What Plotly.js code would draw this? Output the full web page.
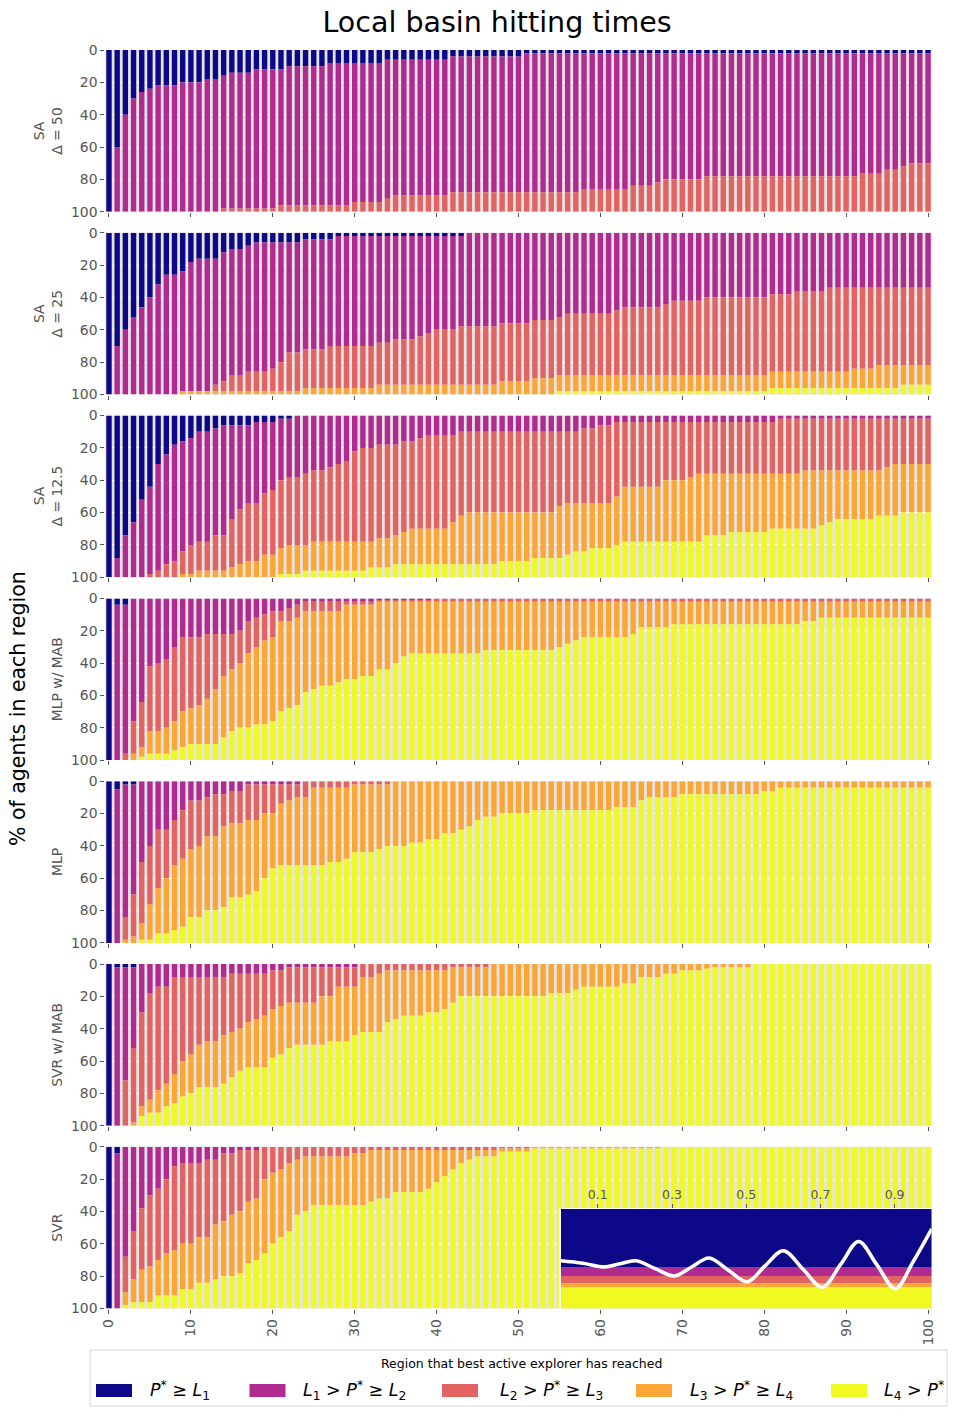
<!DOCTYPE html>
<html><head><meta charset="utf-8">
<script src="https://cdn.plot.ly/plotly-3.0.1.min.js"></script>
<style>body{margin:0;background:#fff}#chart{width:957px;height:1417px}</style>
</head><body><div id="chart"></div>
<script>
// ---------- categories / ticks ----------
const steps = [0,1,2,3,4,5,6,7,8,9,10,11,12,13,14,15,16,17,18,19,20,21,22,23,24,25,26,27,28,29,30,31,32,33,34,35,36,37,38,39,40,41,42,43,44,45,46,47,48,49,50,51,52,53,54,55,56,57,58,59,60,61,62,63,64,65,66,67,68,69,70,71,72,73,74,75,76,77,78,79,80,81,82,83,84,85,86,87,88,89,90,91,92,93,94,95,96,97,98,99,100];
const xTickVals = [0,10,20,30,40,50,60,70,80,90,100];
const yTickVals = [0,20,40,60,80,100];
const panelLabels = ["SA<br>Δ = 50","SA<br>Δ = 25","SA<br>Δ = 12.5","MLP w/ MAB","MLP","SVR w/ MAB","SVR"];
const regionLabels = ["<i>P</i><sup>*</sup> ≥ <i>L</i><sub>1</sub>","<i>L</i><sub>1</sub> > <i>P</i><sup>*</sup> ≥ <i>L</i><sub>2</sub>","<i>L</i><sub>2</sub> > <i>P</i><sup>*</sup> ≥ <i>L</i><sub>3</sub>","<i>L</i><sub>3</sub> > <i>P</i><sup>*</sup> ≥ <i>L</i><sub>4</sub>","<i>L</i><sub>4</sub> > <i>P</i><sup>*</sup>"];
const legendTitle = "Region that best active explorer has reached";

// ---------- cumulative boundaries (% of agents), b1..b4 per panel ----------
// SA Δ=50
const sa50_b1 = [100,60,40,30,26,24,22,22,22,20,
20,20,18,18,16,14,14,14,12,12,
12,12,10,10,10,10,10,8,8,8,
8,8,8,8,6,6,6,6,6,6,
6,6,4,4,4,4,4,4,4,4,
4,2,2,2,2,2,2,2,2,2,
2,2,2,2,2,2,2,2,2,2,
2,2,2,2,2,2,2,2,2,2,
2,2,2,2,2,2,2,2,2,2,
2,2,2,2,2,2,2,2,2,2,
2];
const sa50_b2 = [100,100,100,100,100,100,100,100,100,100,
100,100,100,100,98,98,98,98,98,98,
98,96,96,96,96,96,96,96,96,96,
94,94,94,94,92,90,90,90,90,90,
90,90,88,88,88,88,88,88,88,88,
88,88,88,88,88,88,88,88,86,86,
86,86,86,86,84,84,84,82,80,80,
80,80,80,78,78,78,78,78,78,78,
78,78,78,78,78,78,78,78,78,78,
78,78,76,76,76,74,74,72,70,70,
70];
const sa50_b3 = [100,100,100,100,100,100,100,100,100,100,
100,100,100,100,100,100,100,100,100,100,
100,100,100,100,100,100,100,100,100,100,
100,100,100,100,100,100,100,100,100,100,
100,100,100,100,100,100,100,100,100,100,
100,100,100,100,100,100,100,100,100,100,
100,100,100,100,100,100,100,100,100,100,
100,100,100,100,100,100,100,100,100,100,
100,100,100,100,100,100,100,100,100,100,
100,100,100,100,100,100,100,100,100,100,
100];
const sa50_b4 = [100,100,100,100,100,100,100,100,100,100,
100,100,100,100,100,100,100,100,100,100,
100,100,100,100,100,100,100,100,100,100,
100,100,100,100,100,100,100,100,100,100,
100,100,100,100,100,100,100,100,100,100,
100,100,100,100,100,100,100,100,100,100,
100,100,100,100,100,100,100,100,100,100,
100,100,100,100,100,100,100,100,100,100,
100,100,100,100,100,100,100,100,100,100,
100,100,100,100,100,100,100,100,100,100,
100];
// SA Δ=25
const sa25_b1 = [100,70,60,52,46,40,32,26,26,24,
18,16,16,16,12,10,10,8,6,6,
6,6,6,6,4,4,4,4,2,2,
2,2,2,2,2,2,2,2,2,2,
2,2,2,2,0,0,0,0,0,0,
0,0,0,0,0,0,0,0,0,0,
0,0,0,0,0,0,0,0,0,0,
0,0,0,0,0,0,0,0,0,0,
0,0,0,0,0,0,0,0,0,0,
0,0,0,0,0,0,0,0,0,0,
0];
const sa25_b2 = [100,100,100,100,100,100,100,100,100,98,
98,98,98,94,92,88,88,86,86,86,
84,80,74,74,72,72,72,70,70,70,
70,70,70,68,68,66,66,66,64,62,
60,60,60,58,58,58,58,58,56,56,
56,56,54,54,54,52,50,50,50,50,
50,50,48,46,46,46,46,46,44,42,
42,42,42,40,40,40,40,40,40,40,
40,38,38,38,36,36,36,36,34,34,
34,34,34,34,34,34,34,34,34,34,
34];
const sa25_b3 = [100,100,100,100,100,100,100,100,100,98,
98,98,98,98,98,98,98,98,98,98,
98,98,98,98,96,96,96,96,96,96,
96,96,96,94,94,94,94,94,94,94,
94,94,94,94,94,94,94,94,92,92,
92,92,90,90,90,88,88,88,88,88,
88,88,88,88,88,88,88,88,88,88,
88,88,88,88,88,88,88,88,88,88,
88,86,86,86,86,86,86,86,86,86,
86,84,84,84,82,82,82,82,82,82,
82];
const sa25_b4 = [100,100,100,100,100,100,100,100,100,100,
100,100,100,100,100,100,100,100,100,100,
100,100,100,100,100,100,100,100,100,100,
100,100,100,100,100,100,100,100,100,100,
100,100,100,100,100,100,100,100,100,100,
100,100,100,100,100,98,98,98,98,98,
98,98,98,98,98,98,98,98,98,98,
98,98,98,98,98,98,98,98,98,98,
98,96,96,96,96,96,96,96,96,96,
96,96,96,96,96,96,96,94,94,94,
94];
// SA Δ=12.5
const sa12_b1 = [100,88,74,66,52,44,30,24,18,16,
14,10,10,8,6,6,6,6,4,4,
4,2,2,0,0,0,0,0,0,0,
0,0,0,0,0,0,0,0,0,0,
0,0,0,0,0,0,0,0,0,0,
0,0,0,0,0,0,0,0,0,0,
0,0,0,0,0,0,0,0,0,0,
0,0,0,0,0,0,0,0,0,0,
0,0,0,0,0,0,0,0,0,0,
0,0,0,0,0,0,0,0,0,0,
0];
const sa12_b2 = [100,100,100,100,100,98,96,92,90,84,
80,78,78,74,74,64,58,54,54,48,
46,40,38,38,36,34,34,32,30,28,
22,20,20,18,18,18,16,16,14,12,
12,12,12,10,10,10,10,10,10,10,
10,10,10,10,10,10,10,10,8,8,
6,6,4,4,4,4,4,4,4,4,
4,4,4,4,4,4,4,4,4,4,
4,4,2,2,2,2,2,2,2,2,
2,2,2,2,2,2,2,2,2,2,
2];
const sa12_b3 = [100,100,100,100,100,100,100,100,100,98,
98,96,96,96,96,94,92,90,90,86,
86,82,80,80,80,78,78,78,78,78,
78,78,78,76,76,74,72,70,70,70,
70,70,66,62,60,60,60,60,60,60,
60,60,60,60,60,56,54,54,54,54,
54,54,50,44,44,44,44,44,40,40,
40,38,36,36,36,36,36,36,36,36,
36,36,36,36,36,34,34,34,34,34,
34,34,34,34,34,32,30,30,30,30,
30];
const sa12_b4 = [100,100,100,100,100,100,100,100,100,100,
100,100,100,100,100,100,100,100,100,100,
100,98,98,98,96,96,96,96,96,96,
96,96,94,94,94,92,92,92,92,92,
92,92,92,92,92,92,92,92,90,90,
90,90,88,88,88,88,86,84,84,82,
82,82,80,78,78,78,78,78,78,78,
78,78,78,74,74,74,72,72,72,72,
72,70,70,70,70,70,70,68,66,64,
64,64,64,64,62,62,62,60,60,60,
60];
// MLP w/ MAB
const mlpmab_b1 = [100,4,4,0,0,0,0,0,0,0,
0,0,0,0,0,0,0,0,0,0,
0,0,0,0,0,0,0,0,0,0,
0,0,0,0,0,0,0,0,0,0,
0,0,0,0,0,0,0,0,0,0,
0,0,0,0,0,0,0,0,0,0,
0,0,0,0,0,0,0,0,0,0,
0,0,0,0,0,0,0,0,0,0,
0,0,0,0,0,0,0,0,0,0,
0,0,0,0,0,0,0,0,0,0,
0];
const mlpmab_b2 = [100,100,96,76,64,42,40,38,30,24,
24,24,22,22,22,22,20,14,12,10,
8,8,6,4,2,2,2,2,2,2,
2,2,2,1,1,1,1,1,1,1,
0,0,0,0,0,0,0,0,0,0,
0,0,0,0,0,0,0,0,0,0,
0,0,0,0,0,0,0,0,0,0,
0,0,0,0,0,0,0,0,0,0,
0,0,0,0,0,0,0,0,0,0,
0,0,0,0,0,0,0,0,0,0,
0];
const mlpmab_b3 = [100,100,100,96,92,82,82,80,76,70,
68,66,62,56,48,44,40,34,30,26,
24,14,14,12,8,8,8,8,8,4,
4,4,4,2,2,2,2,2,2,2,
2,2,2,2,2,2,2,2,2,2,
2,2,2,2,2,2,2,2,2,2,
2,2,2,2,2,2,2,2,2,2,
2,2,2,2,2,2,2,2,2,2,
2,2,2,2,2,2,2,2,2,2,
2,2,2,2,2,2,2,2,2,2,
2];
const mlpmab_b4 = [100,100,100,100,98,96,96,96,94,92,
90,90,90,90,86,82,80,80,78,78,
76,70,68,66,58,56,54,54,52,50,
50,48,48,44,44,40,36,34,34,34,
34,34,34,34,34,34,32,32,32,32,
32,32,32,32,32,30,28,26,24,24,
24,24,24,24,22,18,18,18,18,16,
16,16,16,16,16,16,16,16,16,16,
16,16,16,16,16,14,14,12,12,12,
12,12,12,12,12,12,12,12,12,12,
12];
// MLP
const mlp_b1 = [100,5,2,2,0,0,0,0,0,0,
0,0,0,0,0,0,0,0,0,0,
0,0,0,0,0,0,0,0,0,0,
0,0,0,0,0,0,0,0,0,0,
0,0,0,0,0,0,0,0,0,0,
0,0,0,0,0,0,0,0,0,0,
0,0,0,0,0,0,0,0,0,0,
0,0,0,0,0,0,0,0,0,0,
0,0,0,0,0,0,0,0,0,0,
0,0,0,0,0,0,0,0,0,0,
0];
const mlp_b2 = [100,100,84,70,50,40,30,30,24,18,
12,12,10,8,8,6,6,2,2,2,
2,2,2,2,0,0,0,0,0,0,
0,0,0,0,0,0,0,0,0,0,
0,0,0,0,0,0,0,0,0,0,
0,0,0,0,0,0,0,0,0,0,
0,0,0,0,0,0,0,0,0,0,
0,0,0,0,0,0,0,0,0,0,
0,0,0,0,0,0,0,0,0,0,
0,0,0,0,0,0,0,0,0,0,
0];
const mlp_b3 = [100,100,98,96,88,76,66,60,52,48,
42,40,34,34,28,26,26,24,24,20,
20,14,12,10,10,4,4,4,4,4,
2,2,2,2,2,0,0,0,0,0,
0,0,0,0,0,0,0,0,0,0,
0,0,0,0,0,0,0,0,0,0,
0,0,0,0,0,0,0,0,0,0,
0,0,0,0,0,0,0,0,0,0,
0,0,0,0,0,0,0,0,0,0,
0,0,0,0,0,0,0,0,0,0,
0];
const mlp_b4 = [100,100,100,100,98,98,94,94,92,90,
84,84,80,80,78,72,72,70,68,60,
54,52,52,52,52,52,52,50,50,48,
44,44,44,42,40,40,40,38,38,36,
36,32,32,30,28,24,22,22,20,20,
20,20,18,18,18,18,18,18,18,18,
18,18,16,16,16,12,10,10,10,10,
8,8,8,8,8,8,8,8,8,8,
6,6,4,4,4,4,4,4,4,4,
4,4,4,4,4,4,4,4,4,4,
4];
// SVR w/ MAB
const svrmab_b1 = [100,2,2,2,0,0,0,0,0,0,
0,0,0,0,0,0,0,0,0,0,
0,0,0,0,0,0,0,0,0,0,
0,0,0,0,0,0,0,0,0,0,
0,0,0,0,0,0,0,0,0,0,
0,0,0,0,0,0,0,0,0,0,
0,0,0,0,0,0,0,0,0,0,
0,0,0,0,0,0,0,0,0,0,
0,0,0,0,0,0,0,0,0,0,
0,0,0,0,0,0,0,0,0,0,
0];
const svrmab_b2 = [100,100,72,52,30,18,14,14,8,8,
8,8,8,8,8,6,6,6,6,6,
4,4,2,2,2,2,2,2,2,2,
2,0,0,0,0,0,0,0,0,0,
0,0,0,0,0,0,0,0,0,0,
0,0,0,0,0,0,0,0,0,0,
0,0,0,0,0,0,0,0,0,0,
0,0,0,0,0,0,0,0,0,0,
0,0,0,0,0,0,0,0,0,0,
0,0,0,0,0,0,0,0,0,0,
0];
const svrmab_b3 = [100,100,100,98,88,84,78,74,68,60,
56,50,48,48,44,42,40,36,34,32,
28,26,24,24,24,24,20,20,14,14,
14,8,8,6,4,4,4,4,4,4,
4,4,2,2,2,2,2,0,0,0,
0,0,0,0,0,0,0,0,0,0,
0,0,0,0,0,0,0,0,0,0,
0,0,0,0,0,0,0,0,0,0,
0,0,0,0,0,0,0,0,0,0,
0,0,0,0,0,0,0,0,0,0,
0];
const svrmab_b4 = [100,100,100,100,94,92,92,88,86,82,
80,76,76,76,74,70,66,64,64,64,
58,56,52,50,50,50,50,48,48,48,
44,42,42,42,36,34,32,32,32,30,
30,28,24,20,20,20,20,20,20,20,
20,20,20,20,18,18,18,16,14,14,
14,14,14,12,12,8,8,8,6,6,
4,4,4,3,2,2,2,2,2,0,
0,0,0,0,0,0,0,0,0,0,
0,0,0,0,0,0,0,0,0,0,
0];
// SVR
const svr_b1 = [100,4,0,0,0,0,0,0,0,0,
0,0,0,0,0,0,0,0,0,0,
0,0,0,0,0,0,0,0,0,0,
0,0,0,0,0,0,0,0,0,0,
0,0,0,0,0,0,0,0,0,0,
0,0,0,0,0,0,0,0,0,0,
0,0,0,0,0,0,0,0,0,0,
0,0,0,0,0,0,0,0,0,0,
0,0,0,0,0,0,0,0,0,0,
0,0,0,0,0,0,0,0,0,0,
0];
const svr_b2 = [100,100,68,52,38,30,26,20,12,10,
10,10,8,8,4,4,2,2,2,0,
0,0,0,0,0,0,0,0,0,0,
0,0,0,0,0,0,0,0,0,0,
0,0,0,0,0,0,0,0,0,0,
0,0,0,0,0,0,0,0,0,0,
0,0,0,0,0,0,0,0,0,0,
0,0,0,0,0,0,0,0,0,0,
0,0,0,0,0,0,0,0,0,0,
0,0,0,0,0,0,0,0,0,0,
0];
const svr_b3 = [100,100,90,82,76,74,70,66,64,60,
60,56,56,48,46,42,40,34,32,20,
16,14,10,8,6,6,6,6,6,6,
4,4,2,2,2,2,2,2,2,2,
2,2,2,2,2,2,2,2,1,1,
1,1,0,0,0,0,0,0,0,0,
0,0,0,0,0,0,0,0,0,0,
0,0,0,0,0,0,0,0,0,0,
0,0,0,0,0,0,0,0,0,0,
0,0,0,0,0,0,0,0,0,0,
0];
const svr_b4 = [100,100,98,96,96,96,92,92,92,88,
88,84,84,82,80,80,78,72,70,66,
60,56,52,42,40,36,36,36,36,36,
36,36,34,32,32,28,28,28,28,26,
22,18,14,10,8,6,6,6,3,3,
3,3,1,1,1,1,1,1,1,1,
1,1,1,1,1,1,1,1,0,0,
0,0,0,0,0,0,0,0,0,0,
0,0,0,0,0,0,0,0,0,0,
0,0,0,0,0,0,0,0,0,0,
0];

// ---------- inset ----------
const insetLevels = [0.418, 0.327, 0.255, 0.214];   // L1..L4
const insetX = [0,0.06,0.118,0.16,0.203,0.255,0.306,0.353,0.40,0.45,0.503,0.55,0.60,0.652,0.705,0.755,0.803,0.852,0.902,0.95,1.0];
const insetY = [0.48,0.455,0.418,0.45,0.48,0.40,0.327,0.417,0.507,0.39,0.269,0.425,0.58,0.40,0.214,0.445,0.673,0.44,0.20,0.47,0.80];
const insetTicks = [0.1,0.3,0.5,0.7,0.9];

// ---------- build ----------
const colors = ['#0d0887','#b12a90','#e16462','#fca636','#f0f921'];
const panels = [
  [sa50_b1,sa50_b2,sa50_b3,sa50_b4],
  [sa25_b1,sa25_b2,sa25_b3,sa25_b4],
  [sa12_b1,sa12_b2,sa12_b3,sa12_b4],
  [mlpmab_b1,mlpmab_b2,mlpmab_b3,mlpmab_b4],
  [mlp_b1,mlp_b2,mlp_b3,mlp_b4],
  [svrmab_b1,svrmab_b2,svrmab_b3,svrmab_b4],
  [svr_b1,svr_b2,svr_b3,svr_b4]
];
panels.forEach((p,i)=>p.forEach((a,j)=>{ if(a.length!==101) throw new Error('panel '+i+' b'+(j+1)+' length '+a.length); }));

const W=957, H=1417;
const fx = p => p/W, fy = p => 1 - p/H;
const tops = [50,232.8,415.6,598.4,781.2,964,1146.8], ph = 161.7;
const xl = 105.3, xr = 931.7;
const gray = '#555555';
const tickFont = {family:'DejaVu Sans', size:13.9, color:gray};

const traces = [];
const layout = {
  width:W, height:H, margin:{l:0,r:0,t:0,b:0},
  paper_bgcolor:'#ffffff', plot_bgcolor:'#e5e5e5',
  barmode:'overlay', showlegend:false,
  font:{family:'DejaVu Sans', color:'#000'},
  title:{text:'Local basin hitting times', font:{size:28.5,color:'#000',family:'DejaVu Sans'},
         x:fx(497), xanchor:'center', y:fy(22), yanchor:'middle', xref:'container', yref:'container'},
  annotations:[], shapes:[]
};

const zeros = steps.map(()=>0), full = steps.map(()=>100);
panels.forEach((b,i)=>{
  const sfx = i===0 ? '' : String(i+1);
  const xa = 'x'+sfx, ya = 'y'+sfx;
  const lower = [zeros, b[0], b[1], b[2], b[3]];
  const upper = [b[0], b[1], b[2], b[3], full];
  for(let c=0;c<5;c++){
    traces.push({type:'bar', x:steps, base:lower[c], y:upper[c].map((u,k)=>u-lower[c][k]),
      width:0.66, marker:{color:colors[c], line:{width:0}}, xaxis:xa, yaxis:ya,
      hoverinfo:'skip', showlegend:false});
  }
  layout['xaxis'+sfx] = {domain:[fx(xl),fx(xr)], anchor:ya, range:[-0.45,100.45],
    tickmode:'array', tickvals:xTickVals, ticktext:xTickVals.map(String),
    ticks:'outside', ticklen:4, tickwidth:1, tickcolor:gray,
    showticklabels:i===6, tickangle:-90, tickfont:tickFont,
    showgrid:false, zeroline:false, showline:false, fixedrange:true};
  layout['yaxis'+sfx] = {domain:[fy(tops[i]+ph), fy(tops[i])], anchor:xa, range:[100,0],
    tickmode:'array', tickvals:yTickVals, ticktext:yTickVals.map(String),
    ticks:'outside', ticklen:4, tickwidth:1, tickcolor:gray, tickfont:tickFont,
    showgrid:true, gridcolor:'#ffffff', gridwidth:1, zeroline:false, showline:false, fixedrange:true};
  const twoLine = panelLabels[i].indexOf('<br>')>=0;
  layout.annotations.push({text:panelLabels[i], xref:'paper', yref:'paper',
    x:fx(twoLine?48:57), y:fy(tops[i]+ph/2), xanchor:'center', yanchor:'middle',
    textangle:-90, showarrow:false, font:{family:'DejaVu Sans', size:13.9, color:gray}});
});

// inset subplot
const L = insetLevels;
traces.push({type:'bar', x:[0.5,0.5,0.5,0.5,0.5], base:[L[0],L[1],L[2],L[3],0],
  y:[1-L[0], L[0]-L[1], L[1]-L[2], L[2]-L[3], L[3]], width:1,
  marker:{color:colors, line:{width:0}}, xaxis:'x8', yaxis:'y8', hoverinfo:'skip', showlegend:false});
traces.push({type:'scatter', mode:'lines', x:insetX, y:insetY,
  line:{color:'#ffffff', width:3.6, shape:'spline', smoothing:1},
  xaxis:'x8', yaxis:'y8', hoverinfo:'skip', showlegend:false});
layout.xaxis8 = {domain:[fx(560.7),fx(xr)], anchor:'y8', side:'top', range:[0,1],
  tickmode:'array', tickvals:insetTicks, ticktext:insetTicks.map(String),
  ticks:'outside', ticklen:4, tickcolor:gray, tickfont:{family:'DejaVu Sans', size:12.5, color:gray},
  showgrid:false, zeroline:false, showline:true, linecolor:'#ffffff', linewidth:1.5, mirror:true, fixedrange:true};
layout.yaxis8 = {domain:[fy(tops[6]+ph), fy(1209)], anchor:'x8', range:[0,1],
  showticklabels:false, ticks:'', showgrid:false, zeroline:false,
  showline:true, linecolor:'#ffffff', linewidth:1.5, mirror:true, fixedrange:true};

// global y label
layout.annotations.push({text:'% of agents in each region', xref:'paper', yref:'paper',
  x:fx(18), y:fy(709), xanchor:'center', yanchor:'middle', textangle:-90, showarrow:false,
  font:{family:'DejaVu Sans', size:20.5, color:'#000'}});

// legend (box, title, patches, labels)
layout.shapes.push({type:'rect', xref:'paper', yref:'paper', x0:fx(90), x1:fx(947), y0:fy(1406), y1:fy(1350),
  line:{color:'#d6d6d6', width:1}, fillcolor:'#ffffff', layer:'above'});
layout.annotations.push({text:legendTitle, xref:'paper', yref:'paper', x:fx(521), y:fy(1363),
  xanchor:'center', yanchor:'middle', showarrow:false, font:{family:'DejaVu Sans', size:12.5, color:'#000'}});
const patchX = [96, 249.5, 442, 636, 831];
const labelX = [148, 301, 498, 688, 882];
for(let c=0;c<5;c++){
  layout.shapes.push({type:'rect', xref:'paper', yref:'paper', x0:fx(patchX[c]), x1:fx(patchX[c]+36),
    y0:fy(1397), y1:fy(1384), fillcolor:colors[c], line:{width:0}, layer:'above'});
  layout.annotations.push({text:regionLabels[c], xref:'paper', yref:'paper', x:fx(labelX[c]), y:fy(1390.5),
    xanchor:'left', yanchor:'middle', showarrow:false, font:{family:'DejaVu Sans', size:17.5, color:'#000'}});
}

Plotly.newPlot('chart', traces, layout, {displayModeBar:false, staticPlot:true});
</script>
</body></html>
